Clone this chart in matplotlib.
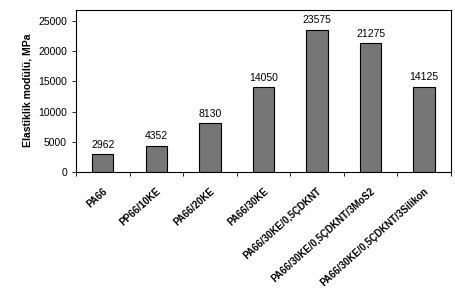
import numpy as np
import matplotlib
matplotlib.use("Agg")
import matplotlib.pyplot as plt

plt.rcParams['font.family'] = ['Liberation Sans', 'DejaVu Sans']

# --- data ---
categories = ["PA66", "PP66/10KE", "PA66/20KE", "PA66/30KE",
              "PA66/30KE/0,5ÇDKNT", "PA66/30KE/0,5ÇDKNT/3MoS2",
              "PA66/30KE/0,5ÇDKNT/3Silikon"]
modulus = [2962, 4352, 8130, 14050, 23575, 21275, 14125]

fig = plt.figure(figsize=(4.55, 3.08), dpi=100)
ax = fig.add_axes([0.167, 0.442, 0.824, 0.527])

x = np.arange(len(categories))
bars = ax.bar(x, modulus, width=0.4, color="#767676", edgecolor="black", linewidth=0.8)

for xi, v in zip(x, modulus):
    ax.text(xi, v + 700, str(v), ha="center", va="bottom", fontsize=7.5)

ax.set_xlim(-0.5, len(categories) - 0.5)
ax.set_ylim(0, 26900)
ax.set_yticks(np.arange(0, 25001, 5000))
ax.tick_params(axis="y", labelsize=7.5, length=3, width=0.6)

# category labels under bars, tick marks between categories (Excel style)
ax.set_xticks(x)
ax.set_xticklabels(categories, rotation=42, ha="right", rotation_mode="anchor",
                   fontsize=7, fontweight="bold")
ax.tick_params(axis="x", length=0, pad=10)
ax.set_xticks(np.arange(-0.5, len(categories)), minor=True)
ax.tick_params(axis="x", which="minor", length=3, width=0.6)

ax.set_ylabel("Elastiklik modülü, MPa", fontsize=7.5, fontweight="bold")

for s in ax.spines.values():
    s.set_linewidth(0.8)

fig.savefig("out.png", dpi=100)
